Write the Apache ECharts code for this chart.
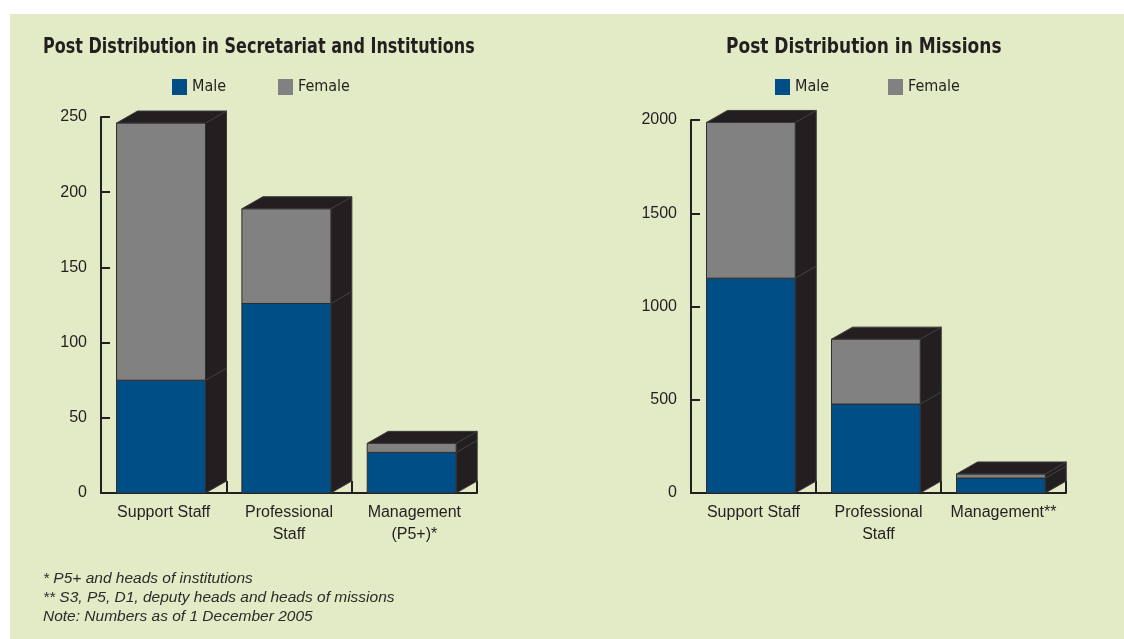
<!DOCTYPE html>
<html>
<head>
<meta charset="utf-8">
<script src="https://cdn.jsdelivr.net/npm/echarts@6/dist/echarts.min.js"></script>
<style>
  html, body { margin: 0; padding: 0; background: #ffffff; }
  #frame { position: absolute; left: 10px; top: 14px; width: 1114px; height: 625px; background: #e2ebc5; }
  #chart { position: absolute; left: 0; top: 0; width: 1124px; height: 639px; }
</style>
</head>
<body>
<div id="frame"></div>
<div id="chart"></div>
<script>
// Post distribution, 1 December 2005
const secCategories = ['Support Staff', 'Professional\nStaff', 'Management\n(P5+)*'];
const secMale = [75, 126, 27];
const secFemale = [171, 63, 6];
const secTicks = { min: 0, max: 250, interval: 50 };

const misCategories = ['Support Staff', 'Professional\nStaff', 'Management**'];
const misMale = [1152, 477, 80];
const misFemale = [835, 348, 22];
const misTicks = { min: 0, max: 2000, interval: 500 };

const footnotes = [
  '* P5+ and heads of institutions',
  '** S3, P5, D1, deputy heads and heads of missions',
  'Note: Numbers as of 1 December 2005'
];

const MALE = '#004e86';
const FEMALE = '#818181';
const DARK = '#231f20';
const INK = '#231f20';
const HEAD = "'DejaVu Sans Condensed', 'DejaVu Sans', sans-serif";
const BODY = "'Liberation Sans', 'Open Sans', sans-serif";

// Stacked segments: [category, from, to, isTopSegment]
function segments(lower, upper, isUpper) {
  return lower.map((v, i) => isUpper
    ? [i, v, v + upper[i], 1]
    : [i, 0, v, 0]);
}

// A stacked segment drawn as a box: front face, right side and, for the topmost segment, a lid
function box3d(params, api) {
  const ci = api.value(0);
  const p0 = api.coord([ci, api.value(1)]);
  const p1 = api.coord([ci, api.value(2)]);
  const band = api.size([1, 0])[0];
  const x0 = p0[0] - band / 2 + band * 0.124;
  const w = band * 0.71;
  const dx = 21, dy = 12;
  const yb = p0[1], yt = p1[1];
  const kids = [
    { type: 'polygon', shape: { points: [[x0 + w, yb], [x0 + w + dx, yb - dy], [x0 + w + dx, yt - dy], [x0 + w, yt]] },
      style: { fill: DARK, stroke: '#3d3a3b', lineWidth: 1 } },
    { type: 'rect', shape: { x: x0, y: yt, width: w, height: yb - yt },
      style: { fill: api.visual('color'), stroke: '#2e2e2e', lineWidth: 1 } }
  ];
  if (api.value(3)) {
    kids.push({ type: 'polygon', shape: { points: [[x0, yt], [x0 + dx, yt - dy], [x0 + w + dx, yt - dy], [x0 + w, yt]] },
      style: { fill: DARK, stroke: '#3d3a3b', lineWidth: 1 } });
  }
  return { type: 'group', children: kids };
}

function xAxisFor(cats, grid) {
  return {
    type: 'category', gridIndex: grid, data: cats, boundaryGap: true,
    axisLine: { show: true, lineStyle: { color: INK, width: 2 } },
    axisTick: { show: true, inside: true, length: 12, lineStyle: { color: INK, width: 2 } },
    axisLabel: { interval: 0, color: INK, fontFamily: BODY, fontSize: 16, lineHeight: 22, margin: 9 }
  };
}
function yAxisFor(t, grid) {
  return {
    type: 'value', gridIndex: grid, min: t.min, max: t.max, interval: t.interval,
    axisLine: { show: true, lineStyle: { color: INK, width: 2 } },
    axisTick: { show: true, inside: true, length: 9, lineStyle: { color: INK, width: 2 } },
    splitLine: { show: false },
    axisLabel: { color: INK, fontFamily: BODY, fontSize: 16, margin: 14, formatter: v => String(v) }
  };
}
function series(name, data, color, idx) {
  return { type: 'custom', name: name, xAxisIndex: idx, yAxisIndex: idx, clip: false,
    itemStyle: { color: color }, renderItem: box3d, data: data, z: 3 };
}
function legendItem(name, left) {
  return { data: [name], left: left, top: 79, padding: 0, icon: 'rect', itemWidth: 15, itemHeight: 16, itemGap: 5,
    textStyle: { color: INK, fontFamily: HEAD, fontSize: 16, padding: [0, 0, 0, 0] }, selectedMode: false };
}
function heading(text, x, squeeze) {
  return { type: 'text', x: x, y: 36, scaleX: squeeze,
    style: { text: text, fill: INK, font: "bold 22px " + HEAD } };
}

const chart = echarts.init(document.getElementById('chart'), null, { renderer: 'canvas' });
chart.setOption({
  animation: false,
  legend: [legendItem('Male', 172), legendItem('Female', 278), legendItem('Male', 775), legendItem('Female', 888)],
  grid: [
    { left: 101, top: 117, width: 376, height: 376 },
    { left: 691, top: 120, width: 375, height: 373 }
  ],
  xAxis: [xAxisFor(secCategories, 0), xAxisFor(misCategories, 1)],
  yAxis: [yAxisFor(secTicks, 0), yAxisFor(misTicks, 1)],
  series: [
    series('Male', segments(secMale, secFemale, false), MALE, 0),
    series('Female', segments(secMale, secFemale, true), FEMALE, 0),
    series('Male', segments(misMale, misFemale, false), MALE, 1),
    series('Female', segments(misMale, misFemale, true), FEMALE, 1)
  ],
  graphic: [
    heading('Post Distribution in Secretariat and Institutions', 43, 0.81),
    heading('Post Distribution in Missions', 726, 0.86),
    { type: 'text', left: 43, top: 569,
      style: { text: footnotes.join('\n'), fill: '#2b2b2b', font: "italic 15.5px " + BODY, lineHeight: 19 } }
  ]
});
</script>
</body>
</html>
